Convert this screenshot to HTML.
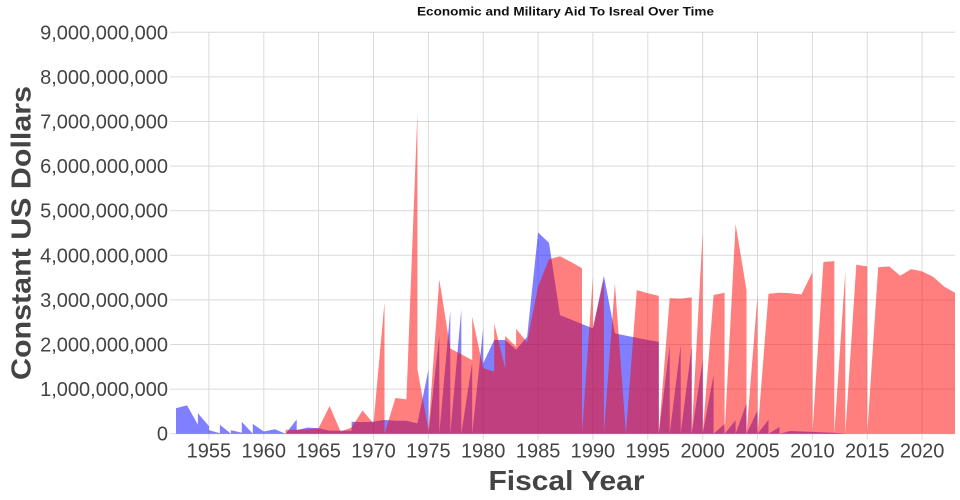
<!DOCTYPE html>
<html><head><meta charset="utf-8"><style>
html,body{margin:0;padding:0;background:#fff;}
svg{display:block;}
text{font-family:"Liberation Sans",sans-serif;}
</style></head><body>
<svg width="960" height="500" viewBox="0 0 960 500" xmlns="http://www.w3.org/2000/svg">
<rect width="960" height="500" fill="#fff"/>
<g stroke="#dadada" stroke-width="1" fill="none">
<path d="M170 433.7H955M170 389.1H955M170 344.5H955M170 299.9H955M170 255.3H955M170 210.7H955M170 166.1H955M170 121.5H955M170 76.9H955M170 32.3H955"/>
<path d="M208.9 32.3V439.5M263.8 32.3V439.5M318.6 32.3V439.5M373.5 32.3V439.5M428.4 32.3V439.5M483.2 32.3V439.5M538.1 32.3V439.5M592.9 32.3V439.5M647.8 32.3V439.5M702.7 32.3V439.5M757.5 32.3V439.5M812.4 32.3V439.5M867.2 32.3V439.5M922.1 32.3V439.5"/>
</g>
<g opacity="0.5">
<path fill="#0000ff" d="M176 433.7 L176 408.3 L187 405.2 L197.9 424.8 L197.9 413.2 L208.9 426.1 L208.9 430.1 L219.9 433.3 L219.9 424.8 L230.9 433.7 L230.9 430.1 L241.8 432.8 L241.8 421.7 L252.8 433.7 L252.8 423.9 L263.8 431.5 L274.8 429.2 L285.7 433.7 L296.7 419.4 L296.7 430.1 L307.7 427.5 L318.6 428.3 L329.6 430.6 L340.6 430.6 L351.6 430.6 L351.6 421.7 L362.5 422.1 L373.5 421.7 L384.5 419.9 L395.4 420.8 L406.4 420.8 L417.4 423.4 L428.4 369.9 L428.4 433.7 L439.3 335.6 L439.3 433.7 L450.3 310.2 L450.3 433.7 L461.3 309.3 L461.3 433.7 L472.2 362.3 L472.2 433.7 L483.2 328.4 L483.2 363.2 L494.2 340 L505.2 340 L516.1 349.8 L527.1 336.9 L538.1 232.5 L549 242.8 L560 315.1 L571 319.5 L582 324 L592.9 328.4 L603.9 275.8 L614.9 333.4 L625.9 335.6 L636.8 337.8 L647.8 340 L658.8 341.8 L658.8 433.7 L669.7 345 L669.7 433.7 L680.7 345 L680.7 433.7 L691.7 346.7 L691.7 433.7 L702.7 360 L702.7 433.7 L713.6 374.8 L713.6 433.7 L724.6 423.9 L724.6 433.7 L735.6 420.3 L735.6 433.7 L746.5 403.4 L746.5 433.7 L757.5 410.5 L757.5 433.7 L768.5 419.9 L768.5 433.7 L779.5 427 L779.5 433.7 L790.4 431 L801.4 431.5 L812.4 431.9 L823.4 432.4 L834.3 432.8 L845.3 433.7 Z"/>
</g>
<g opacity="0.5">
<path fill="#ff0000" d="M285.7 433.7 L285.7 429.7 L296.7 429.7 L307.7 429.2 L318.6 428.3 L329.6 406 L340.6 431.5 L351.6 427.5 L362.5 410.5 L373.5 423.4 L384.5 302.1 L384.5 433.7 L395.4 398 L406.4 399.4 L417.4 112.6 L417.4 369 L428.4 430.1 L439.3 279.4 L450.3 348.5 L461.3 354.3 L472.2 360.1 L472.2 316.8 L483.2 368.1 L494.2 371.7 L494.2 323.5 L505.2 368.6 L505.2 336 L516.1 346.7 L516.1 328.9 L527.1 342.3 L538.1 286.5 L549 259.3 L560 256.2 L571 262 L582 268.2 L582 433.7 L592.9 276.7 L592.9 328.4 L603.9 280 L603.9 433.7 L614.9 283.4 L625.9 433.7 L636.8 290.1 L647.8 293.2 L658.8 295.9 L658.8 433.7 L669.7 298.1 L680.7 298.6 L691.7 297.2 L691.7 433.7 L702.7 231.7 L702.7 433.7 L713.6 295 L724.6 292.8 L724.6 433.7 L735.6 224.1 L746.5 290.1 L746.5 433.7 L757.5 295.4 L757.5 433.7 L768.5 293.7 L779.5 292.8 L790.4 293.2 L801.4 294.5 L812.4 272.3 L812.4 433.7 L823.4 262 L834.3 261.1 L834.3 433.7 L845.3 271.4 L845.3 433.7 L856.3 264.7 L867.2 266.4 L867.2 433.7 L878.2 267.3 L889.2 266.4 L900.2 275.8 L911.1 269.1 L922.1 271.4 L933.1 276.7 L944 286.5 L955 292.8 L955 433.7 Z"/>
</g>
<g font-size="20" fill="#444" text-anchor="end">
<text x="168" y="440.7">0</text>
<text x="168" y="396.1">1,000,000,000</text>
<text x="168" y="351.5">2,000,000,000</text>
<text x="168" y="306.9">3,000,000,000</text>
<text x="168" y="262.3">4,000,000,000</text>
<text x="168" y="217.7">5,000,000,000</text>
<text x="168" y="173.1">6,000,000,000</text>
<text x="168" y="128.5">7,000,000,000</text>
<text x="168" y="83.9">8,000,000,000</text>
<text x="168" y="39.3">9,000,000,000</text>
</g>
<g font-size="20" fill="#444" text-anchor="middle">
<text x="208.9" y="457.3">1955</text>
<text x="263.8" y="457.3">1960</text>
<text x="318.6" y="457.3">1965</text>
<text x="373.5" y="457.3">1970</text>
<text x="428.4" y="457.3">1975</text>
<text x="483.2" y="457.3">1980</text>
<text x="538.1" y="457.3">1985</text>
<text x="592.9" y="457.3">1990</text>
<text x="647.8" y="457.3">1995</text>
<text x="702.7" y="457.3">2000</text>
<text x="757.5" y="457.3">2005</text>
<text x="812.4" y="457.3">2010</text>
<text x="867.2" y="457.3">2015</text>
<text x="922.1" y="457.3">2020</text>
</g>
<text x="566.5" y="490" font-size="28" font-weight="bold" fill="#444" text-anchor="middle" textLength="156" lengthAdjust="spacingAndGlyphs">Fiscal Year</text>
<text transform="translate(30.7,233) rotate(-90)" x="0" y="0" font-size="28" font-weight="bold" fill="#444" text-anchor="middle" textLength="294" lengthAdjust="spacingAndGlyphs">Constant US Dollars</text>
<text x="565.5" y="15.3" font-size="12" font-weight="bold" fill="#111" text-anchor="middle" textLength="297" lengthAdjust="spacingAndGlyphs">Economic and Military Aid To Isreal Over Time</text>
</svg>
</body></html>
